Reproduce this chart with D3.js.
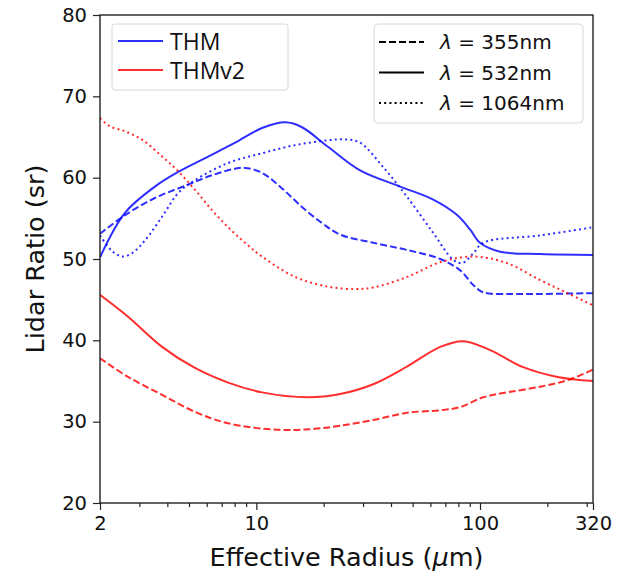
<!DOCTYPE html>
<html>
<head>
<meta charset="utf-8">
<script src="https://cdn.jsdelivr.net/npm/d3@7"></script>
<style>
  body { margin: 0; background: #fff; }
  text { font-family: "DejaVu Sans", sans-serif; fill: #111; }
</style>
</head>
<body>
<div id="chart"></div>
<script>
// Lidar ratio vs effective radius
var thm355X  = [2, 2.59, 3.52, 4.8, 6.34, 8.04, 8.9, 10.6, 13.0, 16.0, 19.7, 23.7, 33.3, 47.3, 66.4, 81.6, 93.3, 103.4, 141, 186, 320];
var thm355Y  = [53.1, 55.4, 57.5, 59.0, 60.3, 61.1, 61.2, 60.6, 58.7, 56.4, 54.4, 53.0, 52.0, 51.1, 50.0, 48.6, 46.8, 45.9, 45.7, 45.7, 45.8];

var thm532X  = [2, 2.59, 3.52, 4.47, 5.9, 8.04, 10.6, 13.5, 16.0, 20.9, 29.1, 44, 61.8, 79, 90.4, 100, 123, 186, 320];
var thm532Y  = [50.2, 55.7, 58.9, 60.7, 62.4, 64.3, 66.1, 66.8, 66.2, 63.8, 60.9, 58.9, 57.3, 55.4, 53.6, 52.0, 50.9, 50.6, 50.5];

var thm1064X = [2, 2.26, 2.53, 2.81, 3.18, 3.79, 4.47, 5.32, 7.48, 10.6, 14.9, 20.9, 25, 29.1, 36.9, 47.3, 61.8, 75.9, 83.3, 93.3, 103.4, 186, 320];
var thm1064Y = [52.9, 51.0, 50.3, 50.8, 52.3, 55.2, 58.1, 59.7, 61.8, 63.0, 64.0, 64.6, 64.7, 64.3, 61.3, 57.6, 53.2, 49.9, 49.5, 50.7, 52.0, 52.9, 53.9];

var v2355X   = [2, 2.67, 3.79, 5.32, 7.48, 12.5, 17.8, 23.7, 33.3, 47.3, 66.4, 81.6, 103.4, 132, 186, 246, 320];
var v2355Y   = [37.8, 35.5, 33.3, 31.2, 29.8, 29.0, 29.1, 29.5, 30.2, 31.1, 31.4, 31.8, 33.0, 33.6, 34.3, 35.1, 36.4];

var v2532X   = [2, 2.67, 3.79, 5.32, 7.48, 10.6, 17.0, 23.7, 33.3, 47.3, 66.4, 84.2, 111, 156, 222, 320];
var v2532Y   = [45.6, 42.9, 39.2, 36.6, 34.8, 33.6, 33.0, 33.4, 34.6, 36.8, 39.2, 39.9, 38.8, 36.7, 35.5, 35.0];

var v21064X  = [2, 2.22, 2.59, 3.11, 3.79, 4.47, 5.32, 6.34, 7.48, 8.9, 10.6, 14.9, 20.9, 27.7, 33.3, 47.3, 66.4, 93.3, 132, 186, 246, 320];
var v21064Y  = [67.3, 66.3, 65.7, 64.6, 62.6, 60.8, 58.5, 56.0, 53.9, 52.0, 50.3, 47.8, 46.6, 46.3, 46.5, 47.8, 49.6, 50.3, 49.5, 47.4, 45.8, 44.3];

var xMajorTicks = [2, 10, 100, 320];
var xMinorTicks = [3, 4, 5, 6, 7, 8, 9, 20, 30, 40, 50, 60, 70, 80, 90, 200, 300];
var yTicks = [20, 30, 40, 50, 60, 70, 80];

var modelNames = ["THM", "THMv2"];
var modelColors = ["rgba(0,0,255,0.82)", "rgba(255,0,0,0.82)"];
var waveLabels = ["355nm", "532nm", "1064nm"];
var waveDash = ["7,3", null, "2,3.2"];

var series = [
  {x: thm355X, y: thm355Y, model: 0, wave: 0},
  {x: thm532X, y: thm532Y, model: 0, wave: 1},
  {x: thm1064X, y: thm1064Y, model: 0, wave: 2},
  {x: v2355X, y: v2355Y, model: 1, wave: 0},
  {x: v2532X, y: v2532Y, model: 1, wave: 1},
  {x: v21064X, y: v21064Y, model: 1, wave: 2}
];

var width = 627, height = 575;
var margin = {top: 15, right: 34, bottom: 72, left: 100};
var plotW = width - margin.left - margin.right,
    plotH = height - margin.top - margin.bottom;

var svg = d3.select("#chart")
  .append("svg")
  .attr("width", width)
  .attr("height", height);

var g = svg.append("g")
  .attr("transform", `translate(${margin.left}, ${margin.top})`);

var x = d3.scaleLog().domain([2, 320]).range([0, plotW]);
var y = d3.scaleLinear().domain([20, 80]).range([plotH, 0]);

g.append("clipPath").attr("id", "clip")
  .append("rect").attr("width", plotW).attr("height", plotH);

// curves
var line = d3.line()
  .x(d => x(d[0]))
  .y(d => y(d[1]))
  .curve(d3.curveCatmullRom.alpha(0.5));

var curves = g.append("g").attr("clip-path", "url(#clip)");
series.forEach(function(s) {
  var pts = s.x.map((v, i) => [v, s.y[i]]);
  curves.append("path")
    .datum(pts)
    .attr("fill", "none")
    .attr("stroke", modelColors[s.model])
    .attr("stroke-width", 2)
    .attr("stroke-dasharray", waveDash[s.wave])
    .attr("d", line);
});

// axes
var xAxis = g.append("g")
  .attr("transform", `translate(0, ${plotH})`)
  .call(d3.axisBottom(x).tickValues(xMajorTicks).tickFormat(d3.format("d")).tickSize(7).tickPadding(6));
g.append("g")
  .attr("transform", `translate(0, ${plotH})`)
  .call(d3.axisBottom(x).tickValues(xMinorTicks).tickFormat("").tickSize(4))
  .select(".domain").remove();
var yAxis = g.append("g")
  .call(d3.axisLeft(y).tickValues(yTicks).tickSize(7).tickPadding(6));

[xAxis, yAxis].forEach(function(a) {
  a.selectAll("text").style("font-size", "19.5px").attr("fill", "#111");
  a.select(".domain").remove();
});
g.selectAll(".tick line").attr("stroke", "#222").attr("stroke-width", 1.2);

// frame
g.append("rect")
  .attr("width", plotW).attr("height", plotH)
  .attr("fill", "none").attr("stroke", "#222").attr("stroke-width", 1.4);

// axis titles
var xt = svg.append("text")
  .attr("x", margin.left + plotW / 2)
  .attr("y", 566)
  .attr("text-anchor", "middle")
  .style("font-size", "25.5px");
xt.append("tspan").text("Effective Radius (");
xt.append("tspan").style("font-style", "italic").text("\u03bc");
xt.append("tspan").text("m)");

svg.append("text")
  .attr("transform", `translate(44, ${margin.top + plotH / 2}) rotate(-90)`)
  .attr("text-anchor", "middle")
  .style("font-size", "25.5px")
  .text("Lidar Ratio (sr)");

// legend: models
var lg1 = svg.append("g");
lg1.append("rect")
  .attr("x", 112).attr("y", 24).attr("width", 176).attr("height", 66)
  .attr("rx", 3).attr("fill", "#fff").attr("stroke", "#d8d8d8");
modelNames.forEach(function(name, i) {
  var yy = 41 + i * 29;
  lg1.append("line")
    .attr("x1", 118).attr("x2", 163).attr("y1", yy).attr("y2", yy)
    .attr("stroke", modelColors[i]).attr("stroke-width", 2);
  lg1.append("text")
    .attr("x", 170).attr("y", yy + 9)
    .style("font-family", "'Open Sans', sans-serif")
    .style("font-size", "23px")
    .text(name);
});

// legend: wavelengths
var lg2 = svg.append("g");
lg2.append("rect")
  .attr("x", 374).attr("y", 24).attr("width", 209).attr("height", 99)
  .attr("rx", 4).attr("fill", "#fff").attr("stroke", "#d8d8d8");
waveLabels.forEach(function(lab, i) {
  var yy = 42 + i * 30.5;
  lg2.append("line")
    .attr("x1", 379).attr("x2", 424).attr("y1", yy).attr("y2", yy)
    .attr("stroke", "#000").attr("stroke-width", 2)
    .attr("stroke-dasharray", waveDash[i]);
  var t = lg2.append("text")
    .attr("x", 440).attr("y", yy + 7)
    .style("font-size", "20px")
    .attr("xml:space", "preserve");
  t.append("tspan").style("font-style", "italic").text("\u03bb");
  t.append("tspan").text(" = " + lab);
});
</script>
</body>
</html>
